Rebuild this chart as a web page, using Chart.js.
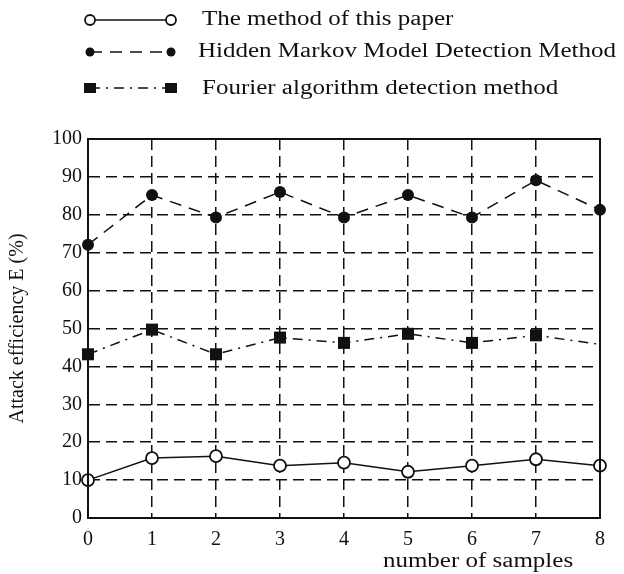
<!DOCTYPE html>
<html>
<head>
<meta charset="utf-8">
<script src="https://cdn.jsdelivr.net/npm/chart.js@4.4.1/dist/chart.umd.min.js"></script>
<style>
  body { margin: 0; background: #fff; }
  #wrap { width: 624px; height: 574px; }
</style>
</head>
<body>
<div id="wrap"><canvas id="chart" width="624" height="574"></canvas></div>
<script>
// Dados do gráfico
const sampleLabels = ['0', '1', '2', '3', '4', '5', '6', '7', '8'];
const seriesNames = [
    'The method of this paper',
    'Hidden Markov Model Detection Method',
    'Fourier algorithm detection method'
];
const paperMethod = [10.0, 15.8, 16.3, 13.8, 14.6, 12.2, 13.8, 15.5, 13.8];
const markovMethod = [72.1, 85.2, 79.3, 86.0, 79.3, 85.2, 79.3, 89.1, 81.3];
const fourierMethod = [43.2, 49.7, 43.2, 47.6, 46.2, 48.6, 46.2, 48.2, 45.8];
const xTitle = 'number of samples';
const yTitle = 'Attack efficiency E (%)';

const FONT = '"Liberation Serif", "Times New Roman", serif';
const STRETCH = 1.25; // a figura original está esticada na horizontal

// Texto esticado na horizontal
function drawStretched(ctx, text, x, y, align) {
    ctx.save();
    ctx.translate(x, y);
    ctx.scale(STRETCH, 1);
    ctx.textAlign = align;
    ctx.textBaseline = 'middle';
    ctx.fillText(text, 0, 0);
    ctx.restore();
}

// Legenda e moldura desenhadas à mão
const frameLegendPlugin = {
    id: 'frameLegend',
    afterDraw(chart) {
        const ctx = chart.ctx;
        const area = chart.chartArea;

        // moldura do gráfico
        ctx.save();
        ctx.strokeStyle = '#111';
        ctx.lineWidth = 2;
        ctx.strokeRect(area.left, area.top, area.right - area.left, area.bottom - area.top);
        ctx.restore();

        // legenda
        const rows = [20, 52, 88];
        chart.data.datasets.forEach((ds, i) => {
            const y = rows[i];
            const x1 = 90, x2 = 171;
            ctx.save();
            ctx.strokeStyle = '#111';
            ctx.lineWidth = 1.5;
            ctx.setLineDash(ds.borderDash || []);
            ctx.beginPath();
            ctx.moveTo(x1, y);
            ctx.lineTo(x2, y);
            ctx.stroke();
            ctx.setLineDash([]);
            [x1, x2].forEach(x => {
                ctx.beginPath();
                if (ds.pointStyle === 'rect') {
                    ctx.fillStyle = '#111';
                    ctx.fillRect(x - 6, y - 5, 12, 10);
                } else if (ds.pointBackgroundColor === '#fff') {
                    ctx.fillStyle = '#fff';
                    ctx.lineWidth = 1.8;
                    ctx.arc(x, y, 5, 0, Math.PI * 2);
                    ctx.fill();
                    ctx.stroke();
                } else {
                    ctx.fillStyle = '#111';
                    ctx.arc(x, y, 4.5, 0, Math.PI * 2);
                    ctx.fill();
                }
            });
            ctx.fillStyle = '#111';
            ctx.font = '20px ' + FONT;
            drawStretched(ctx, ds.label, i === 1 ? 198 : 202, i === 2 ? 89 : y, 'left');
            ctx.restore();
        });

        // título do eixo x
        ctx.save();
        ctx.fillStyle = '#111';
        ctx.font = '20px ' + FONT;
        drawStretched(ctx, xTitle, 478, 562, 'center');
        ctx.restore();
    }
};

function createAttackChart() {
    const ctx = document.getElementById('chart');

    window.attackChart = new Chart(ctx, {
        type: 'line',
        data: {
            labels: sampleLabels,
            datasets: [{
                label: seriesNames[0],
                data: paperMethod,
                borderColor: '#111',
                borderWidth: 1.5,
                pointStyle: 'circle',
                pointRadius: 6,
                pointBorderWidth: 1.8,
                pointBorderColor: '#111',
                pointBackgroundColor: '#fff',
                clip: false
            }, {
                label: seriesNames[1],
                data: markovMethod,
                borderColor: '#111',
                borderWidth: 1.5,
                borderDash: [12, 8],
                pointStyle: 'circle',
                pointRadius: 6,
                pointBorderWidth: 0,
                pointBackgroundColor: '#111',
                clip: false
            }, {
                label: seriesNames[2],
                data: fourierMethod,
                borderColor: '#111',
                borderWidth: 1.5,
                borderDash: [10, 6, 2, 6],
                pointStyle: 'rect',
                pointRadius: [8.5, 8.5, 8.5, 8.5, 8.5, 8.5, 8.5, 8.5, 0],
                pointBorderWidth: 0,
                pointBackgroundColor: '#111',
                clip: false
            }]
        },
        options: {
            responsive: false,
            animation: false,
            layout: { padding: { top: 139, right: 24, left: 0, bottom: 0 } },
            plugins: {
                legend: { display: false },
                tooltip: { enabled: false }
            },
            scales: {
                x: {
                    type: 'category',
                    offset: false,
                    afterFit: function(scale) { scale.height = 56; },
                    grid: { color: '#111', lineWidth: 1.5, drawTicks: false },
                    border: { display: true, color: '#111', width: 2, dash: [11, 6] },
                    ticks: {
                        color: '#111',
                        padding: 10,
                        maxRotation: 0,
                        font: { family: FONT, size: 20 }
                    }
                },
                y: {
                    min: 0,
                    max: 100,
                    afterFit: function(scale) { scale.width = 88; },
                    grid: { color: '#111', lineWidth: 1.5, drawTicks: false },
                    border: { display: true, color: '#111', width: 2, dash: [11, 6] },
                    ticks: {
                        stepSize: 10,
                        color: '#111',
                        padding: 6,
                        font: { family: FONT, size: 20 }
                    },
                    title: {
                        display: true,
                        text: yTitle,
                        color: '#111',
                        padding: { top: 6, bottom: 0 },
                        font: { family: FONT, size: 20 }
                    }
                }
            }
        },
        plugins: [frameLegendPlugin]
    });
}

createAttackChart();
</script>
</body>
</html>
